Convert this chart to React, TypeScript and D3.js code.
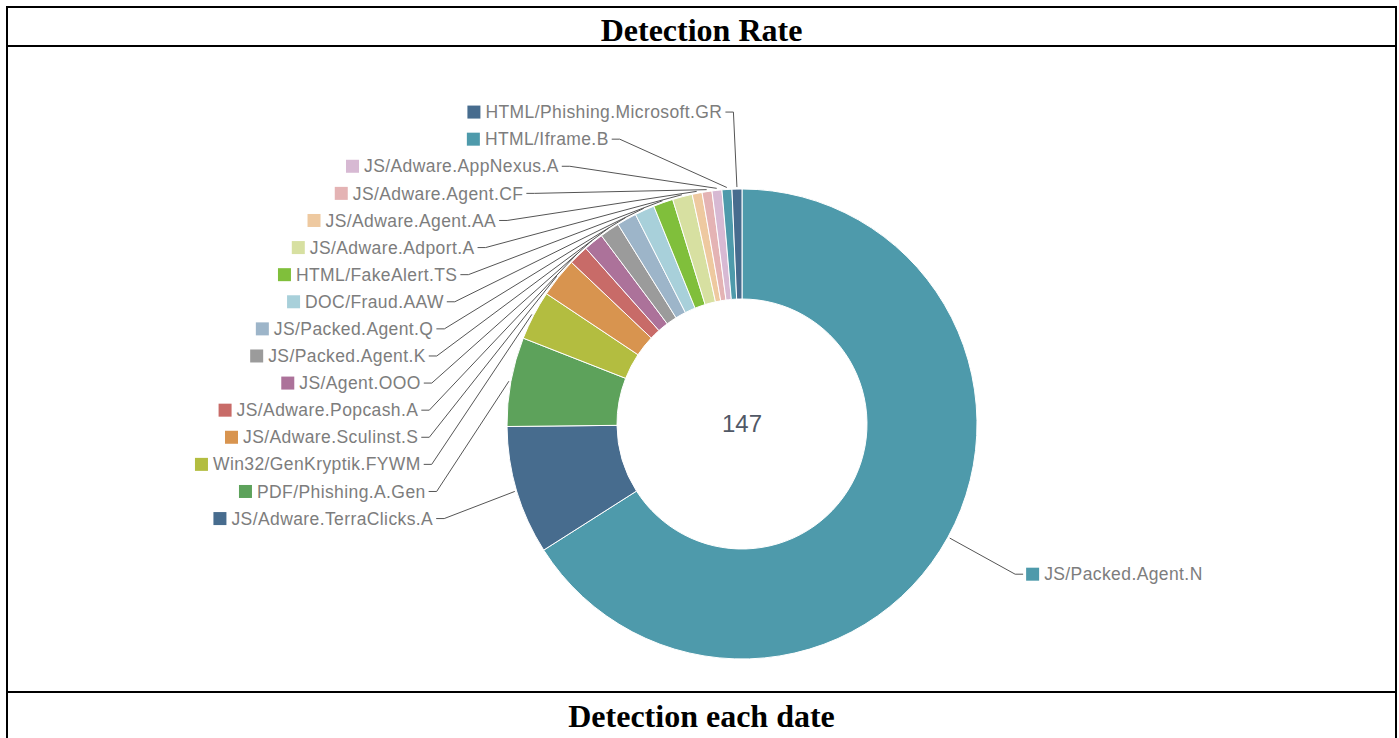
import { useEffect, useRef } from "react";
import * as d3 from "d3";

const categories = [
  "JS/Packed.Agent.N",
  "JS/Adware.TerraClicks.A",
  "PDF/Phishing.A.Gen",
  "Win32/GenKryptik.FYWM",
  "JS/Adware.Sculinst.S",
  "JS/Adware.Popcash.A",
  "JS/Agent.OOO",
  "JS/Packed.Agent.K",
  "JS/Packed.Agent.Q",
  "DOC/Fraud.AAW",
  "HTML/FakeAlert.TS",
  "JS/Adware.Adport.A",
  "JS/Adware.Agent.AA",
  "JS/Adware.Agent.CF",
  "JS/Adware.AppNexus.A",
  "HTML/Iframe.B",
  "HTML/Phishing.Microsoft.GR",
];
const detections = [97, 13, 9, 5, 4, 2, 2, 2, 2, 2, 2, 2, 1, 1, 1, 1, 1];

const palette = [
  "#4e9aab",
  "#476c8e",
  "#5da25b",
  "#b3bd40",
  "#d8944f",
  "#c86b68",
  "#ac729a",
  "#9b9b9b",
  "#9db5c9",
  "#a8d0da",
  "#80bf3b",
  "#d7e0a1",
  "#eec9a0",
  "#e4b3b4",
  "#d7b9d3",
];

const sectionTitles = ["Detection Rate", "Detection each date"];

type Slice = d3.PieArcDatum<number> & { index: number };

function App() {
  const svgRef = useRef<SVGSVGElement | null>(null);

  useEffect(() => {
    if (!svgRef.current) return;
    const WIDTH = 1399;
    const HEIGHT = 738;
    const TABLE = { left: 7, right: 1396, top: 7, head: 46, foot: 692 };
    const CX = 742;
    const CY = 424;
    const OUTER = 235;
    const INNER = 125;
    const ELLIPSE = { a: 324, b: 312.5 };
    const LINE_GAP = 27.1;

    const svg = d3.select(svgRef.current);
    svg.selectAll("*").remove();
    svg.attr("width", WIDTH).attr("height", HEIGHT);

    // table frame
    const frame = svg.append("g").attr("stroke", "#000").attr("stroke-width", 2);
    [TABLE.top, TABLE.head, TABLE.foot].forEach((y) =>
      frame.append("line").attr("x1", TABLE.left - 1).attr("x2", TABLE.right + 1).attr("y1", y).attr("y2", y)
    );
    [TABLE.left, TABLE.right].forEach((x) =>
      frame.append("line").attr("x1", x).attr("x2", x).attr("y1", TABLE.top - 1).attr("y2", HEIGHT)
    );

    const midX = (TABLE.left + TABLE.right) / 2;
    svg
      .selectAll(".section-title")
      .data(sectionTitles)
      .join("text")
      .attr("class", "section-title")
      .attr("x", midX)
      .attr("y", (_, i) => (i === 0 ? 41 : 727))
      .attr("text-anchor", "middle")
      .style("font-family", "'Liberation Serif', 'Times New Roman', serif")
      .style("font-weight", "bold")
      .style("font-size", "32px")
      .text((d) => d);

    // donut
    const pie = d3.pie<number>().sort(null).value((d) => d);
    const arcs: Slice[] = pie(detections).map((d, i) => ({ ...d, index: i }));
    const arc = d3.arc<Slice>().innerRadius(INNER).outerRadius(OUTER);

    const chart = svg.append("g").attr("transform", `translate(${CX},${CY})`);
    chart
      .selectAll(".slice")
      .data(arcs)
      .join("path")
      .attr("class", "slice")
      .attr("d", arc)
      .attr("fill", (d) => palette[d.index % palette.length])
      .attr("stroke", "#fff")
      .attr("stroke-width", 1);

    chart
      .append("text")
      .attr("text-anchor", "middle")
      .attr("dy", "0.35em")
      .style("font-family", "'Liberation Sans', Arial, sans-serif")
      .style("font-size", "24px")
      .attr("fill", "#515866")
      .text(String(d3.sum(detections)));

    // labels: stack each side top-down, x on an ellipse around the donut
    const mid = (d: Slice) => (d.startAngle + d.endAngle) / 2;
    const sides = [
      { side: -1, items: arcs.filter((d) => mid(d) > Math.PI).sort((p, q) => mid(q) - mid(p)) },
      { side: 1, items: arcs.filter((d) => mid(d) <= Math.PI).sort((p, q) => mid(p) - mid(q)) },
    ];

    const lineGen = d3.line();
    const labels = chart.append("g");

    sides.forEach(({ side, items }) => {
      let prevY = -Infinity;
      items.forEach((d) => {
        const a = mid(d);
        const natural = -312 * Math.cos(a);
        const y = Math.max(natural, prevY + LINE_GAP);
        prevY = y;
        const t = Math.max(0, 1 - (y / ELLIPSE.b) ** 2);
        const anchorX = side * ELLIPSE.a * Math.sqrt(t);

        // line: slice edge -> elbow -> next to the label
        const tip: [number, number] = [(OUTER + 2) * Math.sin(a), -(OUTER + 2) * Math.cos(a)];
        const elbow: [number, number] = [anchorX - side * 11, y];
        const end: [number, number] = [anchorX - side * 3, y];

        labels
          .append("path")
          .attr("d", lineGen([tip, elbow, end]))
          .attr("fill", "none")
          .attr("stroke", "#555")
          .attr("stroke-width", 1);

        const g = labels.append("g");
        const txt = g
          .append("text")
          .attr("y", y)
          .attr("dy", "0.35em")
          .style("font-family", "'Liberation Sans', Arial, sans-serif")
          .style("font-size", "17.5px")
          .style("letter-spacing", "0.4px")
          .attr("fill", "#7d7d7d")
          .text(categories[d.index]);
        const w = (txt.node() as SVGTextElement).getComputedTextLength();
        let markerX: number;
        if (side < 0) {
          txt.attr("x", anchorX).attr("text-anchor", "end");
          markerX = anchorX - w - 5 - 13;
        } else {
          markerX = anchorX;
          txt.attr("x", anchorX + 13 + 5).attr("text-anchor", "start");
        }
        g.append("rect")
          .attr("x", markerX)
          .attr("y", y - 6.5)
          .attr("width", 13)
          .attr("height", 13)
          .attr("fill", palette[d.index % palette.length]);
      });
    });
  }, []);

  return (
    <div style={{ position: "absolute", left: 0, top: 0 }}>
      <svg ref={svgRef} style={{ display: "block", background: "#fff" }} role="img" aria-label="Detection rate donut chart" />
    </div>
  );
}

export default App;
